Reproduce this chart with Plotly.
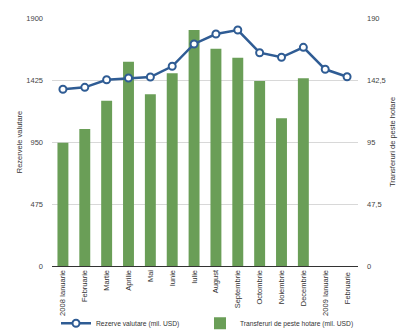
import plotly.graph_objects as go

categories = ["2008 Ianuarie", "Februarie", "Martie", "Aprilie", "Mai", "Iunie", "Iulie",
              "August", "Septembrie", "Octombrie", "Noiembrie", "Decembrie",
              "2009 Ianuarie", "Februarie "]
reserves = [1354, 1369, 1427, 1440, 1448, 1530, 1701, 1777, 1808, 1634, 1599, 1675, 1507, 1450]
transfers = [94.5, 105, 126.6, 156.5, 131.5, 147.6, 180.8, 166.5, 159.6, 141.7, 113.2, 143.8, None, None]
left_ticks = [0, 475, 950, 1425, 1900]
left_labels = ["0", "475", "950", "1425", "1900"]
right_ticks = [0, 47.5, 95, 142.5, 190]
right_labels = ["0", "47,5", "95", "142,5", "190"]

font = "Liberation Sans, Arial, sans-serif"
fig = go.Figure()
fig.add_trace(go.Bar(
    x=categories, y=transfers, name="Transferuri de peste hotare (mil. USD)",
    marker=dict(color="#6a9e57", line=dict(width=0)), width=0.5,
    yaxis="y", legend="legend2"))
fig.add_trace(go.Scatter(
    x=categories, y=reserves, name="Rezerve valutare (mil. USD)",
    mode="lines+markers", yaxis="y2",
    line=dict(color="#2f5c94", width=2.5),
    marker=dict(symbol="circle", size=7, color="white", line=dict(color="#2f5c94", width=2)),
    legend="legend"))

leg_common = dict(orientation="h", xref="container", yref="container", y=0.07,
                  xanchor="left", yanchor="top", itemwidth=30,
                  font=dict(size=6.7, color="#333"), bgcolor="rgba(0,0,0,0)")

fig.update_layout(
    width=400, height=332,
    margin=dict(l=52, r=42, t=18, b=66, autoexpand=False),
    paper_bgcolor="white", plot_bgcolor="white",
    font=dict(family=font, size=8, color="#444"),
    showlegend=True,
    xaxis=dict(type="category", tickangle=-90, showgrid=False, showline=True, automargin=False,
               linecolor="#333", linewidth=1, ticks="", tickfont=dict(size=7.5, color="#333"),
               range=[-0.5, 13.5]),
    yaxis=dict(side="right", range=[0, 190], tickvals=right_ticks, ticktext=right_labels, automargin=False,
               showgrid=True, gridcolor="#d8d8d8", gridwidth=1, zeroline=False,
               tickfont=dict(size=7.5, color="#444"), ticklabelstandoff=8,
               title=dict(text="Transferuri de peste hotare", font=dict(size=7.5, color="#333"), standoff=4)),
    yaxis2=dict(side="left", overlaying="y", range=[0, 1900], tickvals=left_ticks, ticktext=left_labels,
                automargin=False, showgrid=False, zeroline=False,
                tickfont=dict(size=7.5, color="#444"), ticklabelstandoff=8,
                title=dict(text="Rezervele valutare", font=dict(size=7.5, color="#333"), standoff=2)),
    legend=dict(x=0.14, **leg_common),
    legend2=dict(x=0.5, **leg_common),
)
fig.write_html("out.html")
